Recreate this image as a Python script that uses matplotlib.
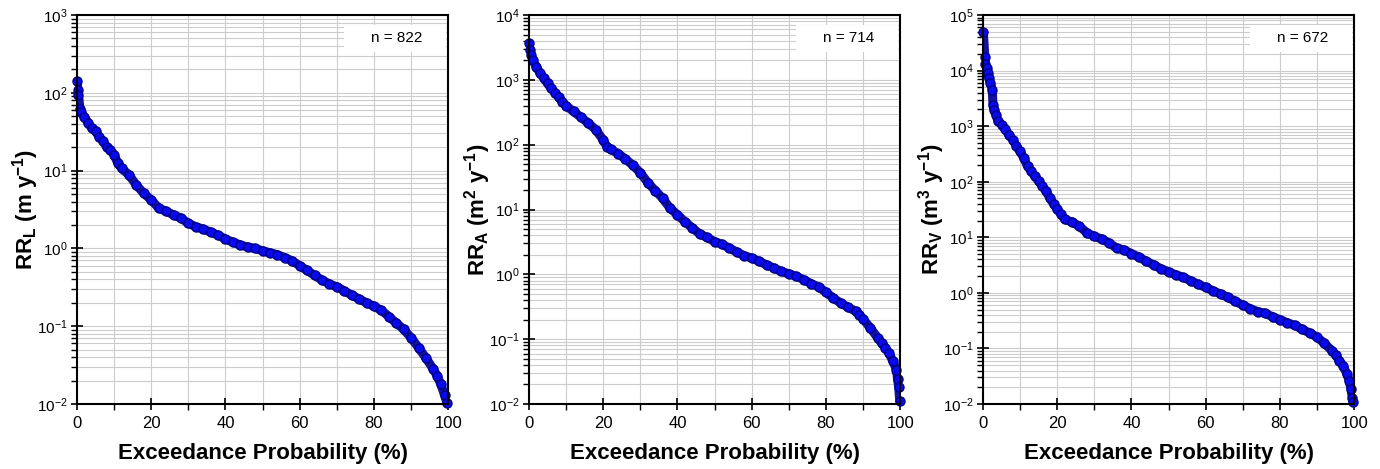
import numpy as np
import matplotlib
matplotlib.use("Agg")
import matplotlib.pyplot as plt
from matplotlib.ticker import LogLocator, MultipleLocator, NullFormatter
from matplotlib.patches import Rectangle

plt.rcParams['font.family'] = ['Liberation Sans', 'DejaVu Sans']
plt.rcParams['mathtext.default'] = 'regular'
plt.rcParams['axes.unicode_minus'] = False

# --- data (exceedance %, rate) ---
p_len = [0, 0.2, 0.4, 0.8, 1, 2, 3, 4, 5, 6, 7, 8, 9, 10, 11, 12, 14, 16, 18, 20,
         22, 24, 26, 28, 30, 32, 34, 36, 38, 40, 42, 44, 46, 48, 50, 52, 54, 56, 58,
         60, 62, 64, 66, 68, 70, 72, 74, 76, 78, 80, 82, 84, 86, 88, 90, 92, 94, 96,
         97, 98, 99, 99.7]
rr_len = [140, 110, 95, 62, 57, 49, 41, 35, 32, 27, 24, 20, 18.5, 16, 12.4, 10.7, 8.8,
          6.5, 5.1, 4.2, 3.3, 3.0, 2.7, 2.45, 2.1, 1.9, 1.77, 1.62, 1.48, 1.32, 1.2,
          1.11, 1.04, 1.0, 0.93, 0.88, 0.83, 0.76, 0.69, 0.60, 0.52, 0.45, 0.39, 0.35,
          0.32, 0.285, 0.25, 0.224, 0.20, 0.18, 0.16, 0.133, 0.11, 0.091, 0.071, 0.053,
          0.039, 0.028, 0.023, 0.018, 0.013, 0.0102]

p_area = [0, 0.3, 0.5, 1, 2, 3, 4, 5, 6, 7, 8, 9, 10, 12, 14, 16, 18, 20, 21, 22, 24,
          26, 28, 30, 32, 34, 36, 38, 40, 42, 44, 46, 48, 50, 52, 54, 56, 58, 60, 62,
          64, 66, 68, 70, 72, 74, 76, 78, 80, 82, 84, 86, 88, 89, 90, 92, 94, 95, 96,
          97, 98, 99, 99.3, 99.6, 99.9]
rr_area = [3700, 2900, 2400, 2000, 1600, 1260, 1060, 880, 740, 635, 540, 460, 400, 325,
           265, 215, 170, 118, 93, 85, 73, 60, 48, 37, 26, 19.6, 14.9, 10.5, 8.3, 6.5,
           5.2, 4.2, 3.7, 3.2, 2.9, 2.55, 2.2, 1.94, 1.78, 1.59, 1.4, 1.25, 1.11, 1.02,
           0.93, 0.83, 0.72, 0.64, 0.53, 0.43, 0.36, 0.31, 0.27, 0.24, 0.205, 0.148,
           0.104, 0.087, 0.073, 0.061, 0.046, 0.034, 0.024, 0.018, 0.011]

p_vol = [0.1, 0.5, 0.6, 1, 1.3, 1.6, 2, 2.5, 2.7, 3, 3.5, 4, 5, 6, 7, 8, 9, 10, 11, 12,
         13, 14, 15, 16, 17, 18, 19, 20, 21, 22, 24, 26, 28, 30, 32, 34, 36, 38, 40,
         42, 44, 46, 48, 50, 52, 54, 56, 58, 60, 62, 64, 66, 68, 70, 72, 74, 76, 78,
         80, 82, 84, 86, 88, 90, 92, 94, 95, 96, 97, 98, 98.7, 99.1, 99.5, 99.8]
rr_vol = [49000, 17800, 13200, 11000, 9000, 7300, 5900, 4500, 2400, 1950, 1590, 1260,
          1060, 880, 700, 570, 440, 350, 265, 190, 155, 125, 102, 83, 68, 51, 40, 32,
          26, 21, 18.8, 15.8, 12, 10.4, 9.3, 7.9, 6.4, 5.9, 5.1, 4.4, 3.7, 3.2, 2.7,
          2.4, 2.1, 1.9, 1.64, 1.43, 1.25, 1.09, 0.95, 0.83, 0.70, 0.60, 0.52, 0.46,
          0.43, 0.37, 0.33, 0.29, 0.26, 0.22, 0.19, 0.16, 0.123, 0.091, 0.076, 0.06,
          0.049, 0.035, 0.026, 0.019, 0.013, 0.0107]

counts = [822, 714, 672]
ylabels = ['RR$_L$ (m y$^{-1}$)', 'RR$_A$ (m$^2$ y$^{-1}$)', 'RR$_V$ (m$^3$ y$^{-1}$)']
ytops = [1e3, 1e4, 1e5]

series = [(p_len, rr_len), (p_area, rr_area), (p_vol, rr_vol)]
lefts = [0.0558, 0.3833, 0.7123]

fig = plt.figure(figsize=(13.8, 4.69), dpi=100)

for (p, rr), n, lab, ytop, left in zip(series, counts, ylabels, ytops, lefts):
    ax = fig.add_axes([left, 0.1386, 0.2690, 0.8294])
    ax.set_yscale('log')
    ax.set_xlim(0, 100)
    ax.set_ylim(1e-2, ytop)

    ax.xaxis.set_major_locator(MultipleLocator(20))
    ax.xaxis.set_minor_locator(MultipleLocator(10))
    ax.yaxis.set_major_locator(LogLocator(base=10, numticks=20))
    ax.yaxis.set_minor_locator(LogLocator(base=10, subs=np.arange(2, 10), numticks=100))
    ax.yaxis.set_minor_formatter(NullFormatter())

    ax.grid(True, which='both', axis='both', color='#cccccc', linewidth=0.8)
    ax.set_axisbelow(True)

    ax.tick_params(axis='x', which='major', direction='inout', length=8, width=1.2,
                   labelsize=12, pad=5)
    ax.tick_params(axis='y', which='major', direction='inout', length=8, width=1.2,
                   labelsize=11, pad=3)
    ax.tick_params(axis='y', which='minor', direction='out', length=4, width=1)
    ax.tick_params(axis='x', which='minor', direction='out', length=4, width=1)
    for sp in ax.spines.values():
        sp.set_linewidth(1.5)

    # white box behind the sample size label
    ax.add_patch(Rectangle((0.72, 0.905), 0.275, 0.07, transform=ax.transAxes,
                           facecolor='white', edgecolor='none', zorder=1.5))
    ax.text(0.86, 0.94, f'n = {n}', transform=ax.transAxes, ha='center', va='center',
            fontsize=11, zorder=3)

    ax.plot(p, rr, color='#12129a', linewidth=6.5, solid_capstyle='round', zorder=2)
    ax.plot(p, rr, linestyle='none', marker='o', markersize=6.5,
            markerfacecolor='#0a0aee', markeredgecolor='#000088', markeredgewidth=1,
            zorder=2.5, clip_on=False)

    ax.set_xlabel('Exceedance Probability (%)', fontsize=16, fontweight='bold', labelpad=8)
    ax.set_ylabel(lab, fontsize=16, fontweight='bold', labelpad=-3)

fig.savefig('out.png', dpi=100)
